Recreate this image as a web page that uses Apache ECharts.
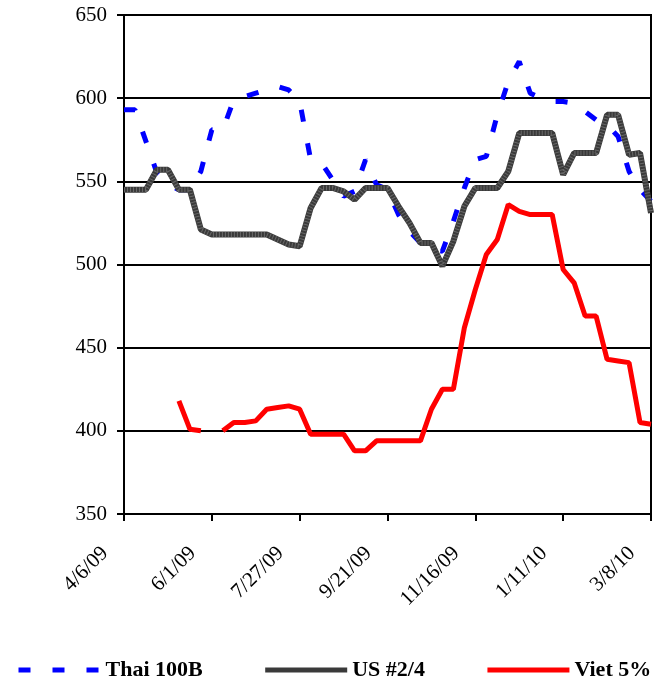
<!DOCTYPE html>
<html>
<head>
<meta charset="utf-8">
<script src="https://cdn.jsdelivr.net/npm/echarts@6/dist/echarts.min.js"></script>
<style>
html,body{margin:0;padding:0;background:#fff;}
#chart{width:668px;height:684px;}
</style>
</head>
<body>
<div id="chart"></div>
<script>
const categories = ['4/6/09','4/13/09','4/20/09','4/27/09','5/4/09','5/11/09','5/18/09','5/25/09',
  '6/1/09','6/8/09','6/15/09','6/22/09','6/29/09','7/6/09','7/13/09','7/20/09',
  '7/27/09','8/3/09','8/10/09','8/17/09','8/24/09','8/31/09','9/7/09','9/14/09',
  '9/21/09','9/28/09','10/5/09','10/12/09','10/19/09','10/26/09','11/2/09','11/9/09',
  '11/16/09','11/23/09','11/30/09','12/7/09','12/14/09','12/21/09','12/28/09','1/4/10',
  '1/11/10','1/18/10','1/25/10','2/1/10','2/8/10','2/15/10','2/22/10','3/1/10','3/8/10'];

const thai100B = [593,593,574,555,548,545,545,556,581,581,599,601,603,605,607,605,
  598,563,561,551,541,544,563,548,545,530,520,513,509,508,526,546,
  563,565,590,610,622,603,600,598,598,597,592,587,584,577,556,545,538];

const us24 = [545,545,545,557,557,545,545,521,518,518,518,518,518,518,515,512,
  511,534,546,546,544,539,546,546,546,535,525,513,513,499,514,535,
  546,546,546,556,579,579,579,579,554,567,567,567,590,590,566,567,531];

const viet5 = [null,null,null,null,null,418,401,400,null,400,405,405,406,413,414,415,
  413,398,398,398,398,388,388,394,394,394,394,394,413,425,425,462,
  485,506,515,536,532,530,530,530,497,489,469,469,443,442,441,405,404];

const yTicks = {min: 350, max: 650, interval: 50};
const seriesNames = ['Thai 100B', 'US #2/4', 'Viet 5%'];

const serif = '"Liberation Serif","Times New Roman",serif';
const chart = echarts.init(document.getElementById('chart'), null, {renderer: 'canvas'});
chart.setOption({
  animation: false,
  backgroundColor: '#fff',
  grid: {left: 124, right: 17, top: 15, bottom: 170, show: true, borderColor: '#000', borderWidth: 2},
  legend: {
    data: seriesNames,
    left: 11, top: 654,
    itemWidth: 82, itemHeight: 12, itemGap: 60,
    itemStyle: {opacity: 0},
    lineStyle: {width: 5},
    textStyle: {fontFamily: serif, fontWeight: 'bold', fontSize: 22, color: '#000'}
  },
  xAxis: {
    type: 'category',
    data: categories,
    boundaryGap: false,
    axisLine: {lineStyle: {color: '#000', width: 2}},
    axisTick: {interval: 7, length: 7, lineStyle: {color: '#000', width: 2}},
    axisLabel: {interval: 7, rotate: 45, margin: 17, padding: [0, 27, 0, 0],
      fontFamily: serif, fontSize: 21, color: '#000'},
    splitLine: {show: false}
  },
  yAxis: {
    type: 'value',
    min: yTicks.min, max: yTicks.max, interval: yTicks.interval,
    axisLine: {show: true, lineStyle: {color: '#000', width: 2}},
    axisTick: {show: true, length: 7, lineStyle: {color: '#000', width: 2}},
    axisLabel: {margin: 17, fontFamily: serif, fontSize: 21, color: '#000'},
    splitLine: {lineStyle: {color: '#000', width: 2}}
  },
  series: [
    {name: seriesNames[0], type: 'line', data: thai100B, showSymbol: false, symbol: 'none',
      lineStyle: {color: '#0000ff', width: 5, type: [12, 22], cap: 'butt'}, itemStyle: {color: '#0000ff'}, z: 2},
    {name: seriesNames[1], type: 'line', data: us24, showSymbol: false, symbol: 'none',
      lineStyle: {color: '#3a3a3a', width: 6}, itemStyle: {color: '#3a3a3a'}, z: 3},
    {name: 'us-texture', type: 'line', data: us24, showSymbol: false, symbol: 'none', silent: true,
      lineStyle: {color: '#686868', width: 5, type: [1, 2], cap: 'butt'}, z: 4},
    {name: seriesNames[2], type: 'line', data: viet5, showSymbol: false, symbol: 'none', connectNulls: false,
      lineStyle: {color: '#ff0000', width: 5}, itemStyle: {color: '#ff0000'}, z: 5}
  ]
});
</script>
</body>
</html>
